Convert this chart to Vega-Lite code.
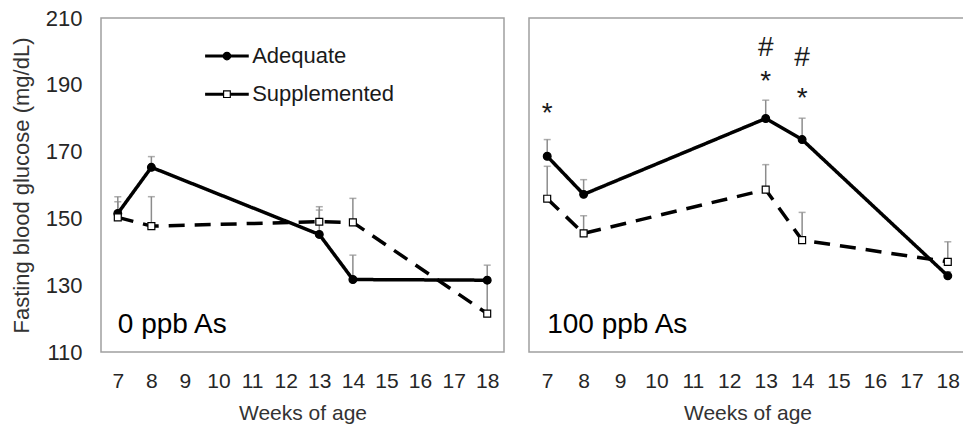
{
  "$schema": "https://vega.github.io/schema/vega-lite/v6.json",
  "padding": {"left": 9, "top": 6, "right": 0, "bottom": 0},
  "background": "white",
  "config": {
    "font": "Liberation Sans",
    "view": {"stroke": "#a0a0a0", "strokeWidth": 1.5},
    "axis": {"labelFont": "Liberation Sans", "titleFont": "Liberation Sans", "labelColor": "#262626", "titleColor": "#333333", "titleFontWeight": "normal", "grid": false, "ticks": false, "domain": false}
  },
  "datasets": {
    "glucose": [
      {"panel": "0 ppb As", "week": 7, "group": "Adequate", "mean": 151.5, "upper": 155},
      {"panel": "0 ppb As", "week": 8, "group": "Adequate", "mean": 165.3, "upper": 168.5},
      {"panel": "0 ppb As", "week": 13, "group": "Adequate", "mean": 145.2, "upper": 152.5},
      {"panel": "0 ppb As", "week": 14, "group": "Adequate", "mean": 131.7, "upper": 139},
      {"panel": "0 ppb As", "week": 18, "group": "Adequate", "mean": 131.5, "upper": 136},
      {"panel": "0 ppb As", "week": 7, "group": "Supplemented", "mean": 150.3, "upper": 156.5},
      {"panel": "0 ppb As", "week": 8, "group": "Supplemented", "mean": 147.7, "upper": 156.5},
      {"panel": "0 ppb As", "week": 13, "group": "Supplemented", "mean": 149, "upper": 153.5},
      {"panel": "0 ppb As", "week": 14, "group": "Supplemented", "mean": 148.8, "upper": 156},
      {"panel": "0 ppb As", "week": 18, "group": "Supplemented", "mean": 121.5, "upper": 131},
      {"panel": "100 ppb As", "week": 7, "group": "Adequate", "mean": 168.6, "upper": 173.6},
      {"panel": "100 ppb As", "week": 8, "group": "Adequate", "mean": 157.2, "upper": 161.6},
      {"panel": "100 ppb As", "week": 13, "group": "Adequate", "mean": 179.9, "upper": 185.4},
      {"panel": "100 ppb As", "week": 14, "group": "Adequate", "mean": 173.6, "upper": 180},
      {"panel": "100 ppb As", "week": 18, "group": "Adequate", "mean": 132.8, "upper": 134},
      {"panel": "100 ppb As", "week": 7, "group": "Supplemented", "mean": 155.9, "upper": 165.6},
      {"panel": "100 ppb As", "week": 8, "group": "Supplemented", "mean": 145.5, "upper": 150.8},
      {"panel": "100 ppb As", "week": 13, "group": "Supplemented", "mean": 158.6, "upper": 166.1},
      {"panel": "100 ppb As", "week": 14, "group": "Supplemented", "mean": 143.5, "upper": 151.8},
      {"panel": "100 ppb As", "week": 18, "group": "Supplemented", "mean": 137, "upper": 143}
    ],
    "signif": [
      {"week": 7, "y": 181.2, "label": "*"},
      {"week": 13, "y": 190.8, "label": "*"},
      {"week": 13, "y": 201.1, "label": "#"},
      {"week": 14, "y": 185.7, "label": "*"},
      {"week": 14, "y": 198.1, "label": "#"}
    ]
  },
  "resolve": {
    "scale": {"strokeDash": "independent", "shape": "independent", "fill": "independent", "size": "independent"},
    "legend": {"strokeDash": "independent", "shape": "independent", "fill": "independent", "size": "independent"}
  },
  "spacing": 23,
  "hconcat": [
    {
      "width": 403,
      "height": 334,
      "encoding": {
        "x": {"type": "quantitative", "scale": {"domain": [6.5, 18.5], "nice": false, "zero": false},
          "axis": {"values": [7, 8, 9, 10, 11, 12, 13, 14, 15, 16, 17, 18], "labelFontSize": 21, "labelPadding": 18, "title": "Weeks of age", "titleFontSize": 21, "titlePadding": 11}},
        "y": {"type": "quantitative", "scale": {"domain": [110, 210], "nice": false, "zero": false},
          "axis": {"values": [110, 130, 150, 170, 190, 210], "labelFontSize": 22, "labelPadding": 19, "title": "Fasting blood glucose (mg/dL)", "titleFontSize": 22, "titlePadding": 12}}
      },
      "layer": [
        {"data": {"name": "glucose"}, "transform": [{"filter": "datum.panel === '0 ppb As'"}],
          "mark": {"type": "rule", "color": "#8c8c8c", "strokeWidth": 1.5},
          "encoding": {"x": {"field": "week", "type": "quantitative"}, "y": {"field": "mean", "type": "quantitative"}, "y2": {"field": "upper"}, "detail": {"field": "group"}}},
        {"data": {"name": "glucose"}, "transform": [{"filter": "datum.panel === '0 ppb As'"}],
          "mark": {"type": "tick", "orient": "horizontal", "color": "#8c8c8c", "size": 7, "thickness": 1.5},
          "encoding": {"x": {"field": "week", "type": "quantitative"}, "y": {"field": "upper", "type": "quantitative"}}},
        {"data": {"name": "glucose"}, "transform": [{"filter": "datum.panel === '0 ppb As'"}],
          "mark": {"type": "line", "color": "black", "strokeWidth": 3.5},
          "encoding": {"x": {"field": "week", "type": "quantitative"}, "y": {"field": "mean", "type": "quantitative"},
            "strokeDash": {"field": "group", "type": "nominal", "scale": {"domain": ["Adequate", "Supplemented"], "range": [[1, 0], [16, 10]]}, "legend": null}}},
        {"data": {"name": "glucose"}, "transform": [{"filter": "datum.panel === '0 ppb As'"}],
          "mark": {"type": "point", "filled": true, "stroke": "black", "strokeWidth": 1.2, "opacity": 1},
          "encoding": {"x": {"field": "week", "type": "quantitative"}, "y": {"field": "mean", "type": "quantitative"},
            "shape": {"field": "group", "type": "nominal", "scale": {"domain": ["Adequate", "Supplemented"], "range": ["circle", "square"]}, "legend": null},
            "fill": {"field": "group", "type": "nominal", "scale": {"domain": ["Adequate", "Supplemented"], "range": ["black", "white"]}, "legend": null},
            "size": {"field": "group", "type": "nominal", "scale": {"domain": ["Adequate", "Supplemented"], "range": [60, 48]}, "legend": null}
          }},
        {"data": {"values": [{"group": "Adequate"}]},
          "mark": {"type": "rule", "color": "black", "strokeWidth": 3},
          "encoding": {"x": {"datum": 9.6}, "x2": {"datum": 10.9}, "y": {"datum": 198.6}}},
        {"data": {"values": [{"group": "Supplemented"}]},
          "mark": {"type": "rule", "color": "black", "strokeWidth": 3},
          "encoding": {"x": {"datum": 9.6}, "x2": {"datum": 10.9}, "y": {"datum": 187.2}}},
        {"data": {"values": [{"group": "Adequate"}]},
          "mark": {"type": "point", "shape": "circle", "filled": true, "fill": "black", "stroke": "black", "strokeWidth": 1.2, "size": 55, "opacity": 1},
          "encoding": {"x": {"datum": 10.25}, "y": {"datum": 198.6}}},
        {"data": {"values": [{"group": "Supplemented"}]},
          "mark": {"type": "point", "shape": "square", "filled": true, "fill": "white", "stroke": "black", "strokeWidth": 1.2, "size": 45, "opacity": 1},
          "encoding": {"x": {"datum": 10.25}, "y": {"datum": 187.2}}},
        {"data": {"values": [{"group": "Adequate"}]},
          "mark": {"type": "text", "align": "left", "baseline": "middle", "fontSize": 22, "font": "Liberation Sans", "color": "#1a1a1a"},
          "encoding": {"x": {"datum": 11.0}, "y": {"datum": 198.6}, "text": {"field": "group"}}},
        {"data": {"values": [{"group": "Supplemented"}]},
          "mark": {"type": "text", "align": "left", "baseline": "middle", "fontSize": 22, "font": "Liberation Sans", "color": "#1a1a1a"},
          "encoding": {"x": {"datum": 11.0}, "y": {"datum": 187.2}, "text": {"field": "group"}}},
        {"data": {"values": [{"panel": "0 ppb As"}]},
          "mark": {"type": "text", "align": "left", "baseline": "middle", "fontSize": 28, "font": "Liberation Sans", "color": "black"},
          "encoding": {"x": {"datum": 7}, "y": {"datum": 118}, "text": {"field": "panel"}}}
      ]
    },
    {
      "width": 437,
      "height": 334,
      "encoding": {
        "x": {"type": "quantitative", "scale": {"domain": [6.5, 18.5], "nice": false, "zero": false},
          "axis": {"values": [7, 8, 9, 10, 11, 12, 13, 14, 15, 16, 17, 18], "labelFontSize": 21, "labelPadding": 18, "title": "Weeks of age", "titleFontSize": 21, "titlePadding": 11}},
        "y": {"type": "quantitative", "scale": {"domain": [110, 210], "nice": false, "zero": false}, "axis": null}
      },
      "layer": [
        {"data": {"name": "glucose"}, "transform": [{"filter": "datum.panel === '100 ppb As'"}],
          "mark": {"type": "rule", "color": "#8c8c8c", "strokeWidth": 1.5},
          "encoding": {"x": {"field": "week", "type": "quantitative"}, "y": {"field": "mean", "type": "quantitative"}, "y2": {"field": "upper"}, "detail": {"field": "group"}}},
        {"data": {"name": "glucose"}, "transform": [{"filter": "datum.panel === '100 ppb As'"}],
          "mark": {"type": "tick", "orient": "horizontal", "color": "#8c8c8c", "size": 7, "thickness": 1.5},
          "encoding": {"x": {"field": "week", "type": "quantitative"}, "y": {"field": "upper", "type": "quantitative"}}},
        {"data": {"name": "glucose"}, "transform": [{"filter": "datum.panel === '100 ppb As'"}],
          "mark": {"type": "line", "color": "black", "strokeWidth": 3.5},
          "encoding": {"x": {"field": "week", "type": "quantitative"}, "y": {"field": "mean", "type": "quantitative"},
            "strokeDash": {"field": "group", "type": "nominal", "scale": {"domain": ["Adequate", "Supplemented"], "range": [[1, 0], [16, 10]]}, "legend": null}}},
        {"data": {"name": "glucose"}, "transform": [{"filter": "datum.panel === '100 ppb As'"}],
          "mark": {"type": "point", "filled": true, "stroke": "black", "strokeWidth": 1.2, "opacity": 1},
          "encoding": {"x": {"field": "week", "type": "quantitative"}, "y": {"field": "mean", "type": "quantitative"},
            "shape": {"field": "group", "type": "nominal", "scale": {"domain": ["Adequate", "Supplemented"], "range": ["circle", "square"]}, "legend": null},
            "fill": {"field": "group", "type": "nominal", "scale": {"domain": ["Adequate", "Supplemented"], "range": ["black", "white"]}, "legend": null},
            "size": {"field": "group", "type": "nominal", "scale": {"domain": ["Adequate", "Supplemented"], "range": [60, 48]}, "legend": null}
          }},
        {"data": {"name": "signif"},
          "mark": {"type": "text", "align": "center", "baseline": "middle", "fontSize": 28, "font": "Liberation Sans", "color": "#1a1a1a"},
          "encoding": {"x": {"field": "week", "type": "quantitative"}, "y": {"field": "y", "type": "quantitative"}, "text": {"field": "label"}}},
        {"data": {"values": [{"panel": "100 ppb As"}]},
          "mark": {"type": "text", "align": "left", "baseline": "middle", "fontSize": 28, "font": "Liberation Sans", "color": "black"},
          "encoding": {"x": {"datum": 7}, "y": {"datum": 118}, "text": {"field": "panel"}}}
      ]
    }
  ]
}
